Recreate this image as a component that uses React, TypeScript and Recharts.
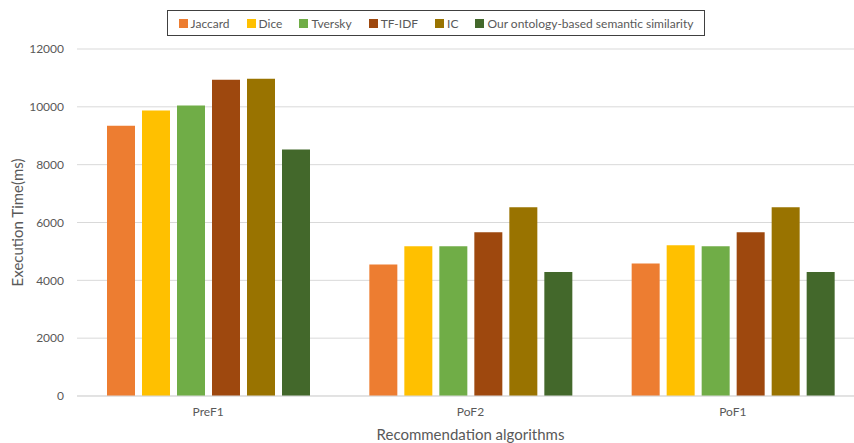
import { BarChart, Bar, XAxis, YAxis, CartesianGrid, Legend } from "recharts";

const categories = ["PreF1", "PoF2", "PoF1"];
const jaccard = [9350, 4545, 4580];
const dice = [9875, 5180, 5215];
const tversky = [10050, 5180, 5180];
const tfidf = [10940, 5665, 5665];
const ic = [10970, 6530, 6530];
const ours = [8525, 4290, 4290];
const yTicks = [0, 2000, 4000, 6000, 8000, 10000, 12000];

const SERIES = [
  { key: "Jaccard", values: jaccard, color: "#ED7D31" },
  { key: "Dice", values: dice, color: "#FFC000" },
  { key: "Tversky", values: tversky, color: "#70AD47" },
  { key: "TF-IDF", values: tfidf, color: "#9E480E" },
  { key: "IC", values: ic, color: "#997300" },
  { key: "Our ontology-based semantic similarity", values: ours, color: "#43682B" },
];

const data = categories.map((name, i) => {
  const row: Record<string, string | number> = { name };
  SERIES.forEach((s) => (row[s.key] = s.values[i]));
  return row;
});

const FONT = "Lato, 'Open Sans', sans-serif";
const TEXT = "#595959";

// keeps the series order instead of recharts' alphabetical sort
function LegendBox() {
  return (
    <div style={{ display: "flex", alignItems: "center", justifyContent: "center", height: "100%", gap: 17, whiteSpace: "nowrap" }}>
      {SERIES.map((s) => (
        <span key={s.key} style={{ display: "inline-flex", alignItems: "center", flexShrink: 0, color: TEXT, fontSize: 12 }}>
          <span style={{ width: 9, height: 9, background: s.color, marginRight: 3 }} />
          {s.key}
        </span>
      ))}
    </div>
  );
}

export default function App() {
  // the original plot runs past the right edge of the picture, so draw wider and clip
  return (
    <div style={{ position: "absolute", left: 0, top: 0, width: 854, height: 443, overflow: "hidden", background: "#fff", fontFamily: FONT }}>
      <BarChart
        width={864}
        height={443}
        data={data}
        margin={{ top: 49, right: 0, bottom: 0, left: 0 }}
        barSize={28}
        barGap={7}
      >
        <CartesianGrid vertical={false} stroke="#d9d9d9" />
        <XAxis
          dataKey="name"
          height={47}
          axisLine={{ stroke: "#d9d9d9" }}
          tickLine={false}
          tickSize={0}
          tickMargin={11}
          tick={{ fill: TEXT, fontSize: 12, fontFamily: FONT }}
          label={{ value: "Recommendation algorithms", position: "insideBottom", offset: 3, fill: TEXT, fontSize: 15, fontFamily: FONT }}
        />
        <YAxis
          width={77}
          domain={[0, 12000]}
          ticks={yTicks}
          axisLine={false}
          tickLine={false}
          tickSize={0}
          tickMargin={13}
          tick={{ fill: TEXT, fontSize: 12, fontFamily: FONT }}
          label={{ value: "Execution Time(ms)", angle: -90, position: "insideLeft", offset: 18, fill: TEXT, fontSize: 15, fontFamily: FONT, style: { textAnchor: "middle" } }}
        />
        <Legend
          verticalAlign="middle"
          align="center"
          layout="horizontal"
          content={() => <LegendBox />}
          wrapperStyle={{
            top: 10,
            left: 167,
            width: 536,
            height: 24,
            border: "1px solid #404040",
            fontFamily: FONT,
          }}
        />
        {SERIES.map((s) => (
          <Bar key={s.key} dataKey={s.key} fill={s.color} isAnimationActive={false} />
        ))}
      </BarChart>
    </div>
  );
}
